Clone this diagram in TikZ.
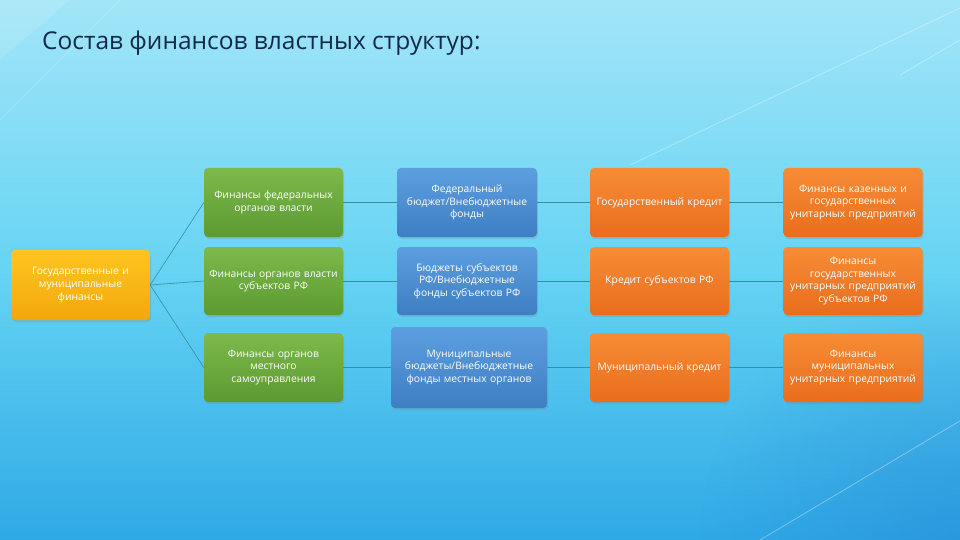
\documentclass[tikz,border=0pt]{standalone}
\usepackage{fontspec}
\setmainfont{Open Sans}
\usetikzlibrary{shadows,fadings}
\definecolor{bgtop}{HTML}{A2E5F8}
\definecolor{bgmid}{HTML}{66D4F3}
\definecolor{bgbot}{HTML}{2FA9E6}
\definecolor{bgdark}{HTML}{2788D6}
\definecolor{titlec}{HTML}{12294A}
\definecolor{linec}{HTML}{3A8C9E}
\definecolor{gtop}{HTML}{7DB94B}
\definecolor{gbot}{HTML}{5C9A32}
\definecolor{btop}{HTML}{5C9FE0}
\definecolor{bbot}{HTML}{3E7EC3}
\definecolor{otop}{HTML}{F78C35}
\definecolor{obot}{HTML}{E96D1D}
\definecolor{ytop}{HTML}{FDC620}
\definecolor{ybot}{HTML}{F4A70C}
\tikzfading[name=cornerfade, inner color=transparent!0, outer color=transparent!100]
\tikzset{
  box/.style={rounded corners=4pt, align=center, text=white, inner sep=2pt,
    font=\fontsize{10.3}{12.6}\selectfont, minimum height=69pt,
    drop shadow={opacity=0.25, shadow xshift=1pt, shadow yshift=-2pt}},
  gbox/.style={box, top color=gtop, bottom color=gbot, minimum width=137pt, text width=135pt},
  bbox/.style={box, top color=btop, bottom color=bbot, minimum width=138pt, text width=136pt},
  obox/.style={box, top color=otop, bottom color=obot, minimum width=137pt, text width=135pt},
  ybox/.style={box, top color=ytop, bottom color=ybot, minimum width=137pt, text width=135pt, minimum height=70pt},
  conn/.style={draw=linec, line width=0.6pt},
  streak/.style={draw=white, line width=0.8pt, opacity=0.35}
}
\begin{document}
\begin{tikzpicture}[x=1pt,y=-1pt]
\useasboundingbox (0,0) rectangle (960,540);
\shade[top color=bgtop, bottom color=bgbot, middle color=bgmid] (0,0) rectangle (960,540);
\begin{scope}
\clip (0,0) rectangle (960,540);
\fill[bgdark, opacity=0.5, path fading=cornerfade] (960,540) circle (260pt);
\end{scope}
\fill[white, opacity=0.12] (0,0) -- (70,0) -- (0,60) -- cycle;
\draw[streak] (960,8) -- (630,165);
\draw[streak] (960,40) -- (900,75);
\draw[streak] (995,400) -- (760,540);
\draw[streak, opacity=0.2] (0,120) -- (120,0);

\node[anchor=base west, text=titlec, font=\fontsize{24.5}{29}\selectfont, inner sep=0pt] (title) at (42,50) {Состав финансов властных структур:};

\node[ybox] (root) at (80.5,285) {Государственные и\\муниципальные\\финансы};

\node[gbox] (g1) at (273.5,202.5) {Финансы федеральных\\органов власти};
\node[gbox, minimum height=68pt] (g2) at (273.5,281) {Финансы органов власти\\субъектов РФ};
\node[gbox] (g3) at (273.5,367.5) {Финансы органов\\местного\\самоуправления};

\node[bbox] (b1) at (467,202.5) {Федеральный\\бюджет/Внебюджетные\\фонды};
\node[bbox, minimum height=68pt] (b2) at (467,281) {Бюджеты субъектов\\РФ/Внебюджетные\\фонды субъектов РФ};
\node[bbox, minimum width=156pt, text width=152pt, minimum height=81pt] (b3) at (469,367.5) {Муниципальные\\бюджеты/Внебюджетные\\фонды местных органов};

\node[obox] (o1) at (659.5,202.5) {Государственный кредит};
\node[obox, minimum height=68pt] (o2) at (659.5,281) {Кредит субъектов РФ};
\node[obox] (o3) at (659.5,367.5) {Муниципальный кредит};

\node[obox, minimum width=138pt] (p1) at (853,202.5) {Финансы казенных и\\государственных\\унитарных предприятий};
\node[obox, minimum width=138pt, minimum height=68pt] (p2) at (853,281) {Финансы\\государственных\\унитарных предприятий\\субъектов РФ};
\node[obox, minimum width=138pt] (p3) at (853,367.5) {Финансы\\муниципальных\\унитарных предприятий};

\draw[conn] (root.east) -- (g1.west);
\draw[conn] (root.east) -- (g2.west);
\draw[conn] (root.east) -- (g3.west);
\draw[conn] (g1.east) -- (b1.west);
\draw[conn] (g2.east) -- (b2.west);
\draw[conn] (g3.east) -- (b3.west);
\draw[conn] (b1.east) -- (o1.west);
\draw[conn] (b2.east) -- (o2.west);
\draw[conn] (b3.east) -- (o3.west);
\draw[conn] (o1.east) -- (p1.west);
\draw[conn] (o2.east) -- (p2.west);
\draw[conn] (o3.east) -- (p3.west);
\end{tikzpicture}
\end{document}
